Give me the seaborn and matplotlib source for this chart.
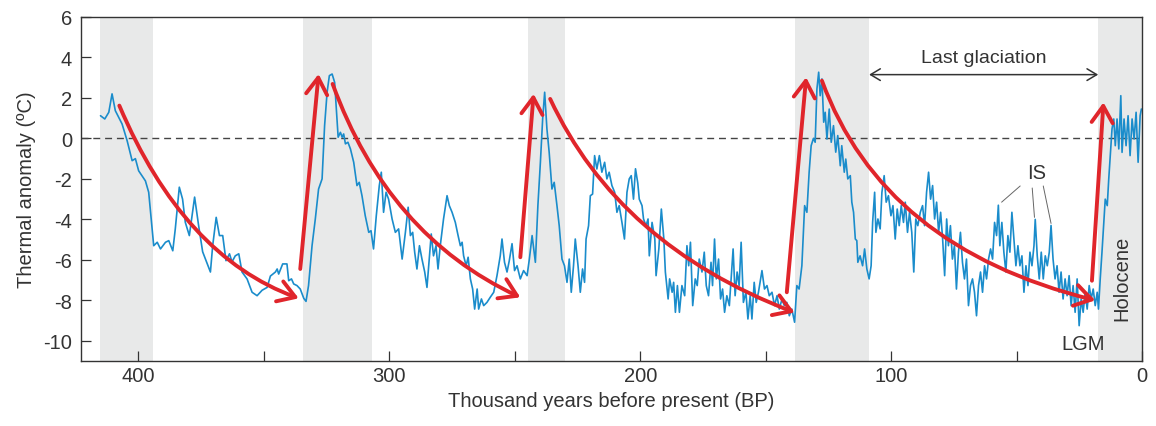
# Glacial cycles - thermal anomaly over the last 420 kyr
import pandas as pd
import matplotlib.pyplot as plt
import seaborn as sns
from matplotlib.ticker import MultipleLocator

sns.set_theme(style="ticks")
plt.rcParams['font.family'] = ['Liberation Sans', 'DejaVu Sans']
plt.rcParams['axes.unicode_minus'] = False

# Data (thousand years BP, anomaly in ºC)
years = [
    415.1, 413.4, 411.8, 410.5, 409.2, 406.5, 404.5, 402.5, 401.2, 399.9,
    397.2, 395.9, 393.9, 392.5, 391.2, 389.2, 387.9, 386.3, 385.3, 383.7,
    382.4, 381.3, 379.7, 377.6, 376.0, 374.4, 371.3, 370.4, 369.0, 367.7,
    366.4, 365.1, 363.7, 362.7, 361.4, 360.0, 358.7, 356.7, 354.7, 352.7,
    350.7, 348.7, 347.4, 345.4, 344.7, 344.1, 342.5, 340.8, 340.1, 339.0,
    338.1, 336.8, 335.5, 334.1, 333.2, 332.2, 330.8, 329.5, 328.2, 326.8,
    325.8, 324.8, 323.9, 322.8, 321.8, 321.1, 320.4, 319.5, 318.8, 318.2,
    317.5, 316.5, 315.5, 314.2, 312.9, 312.0, 310.9, 309.6, 308.2, 307.3,
    306.3, 305.2, 304.0, 303.2, 302.3, 301.3, 300.3, 298.9, 297.6, 296.3,
    294.9, 293.6, 292.5, 291.6, 290.7, 289.9, 289.0, 288.0, 287.0, 285.9,
    285.0, 284.1, 283.3, 282.4, 281.4, 280.6, 279.7, 278.4, 277.0, 276.1,
    275.0, 273.7, 272.6, 271.7, 271.0, 270.4, 269.4, 268.6, 267.7, 266.8,
    266.0, 265.0, 264.4, 263.3, 262.4, 261.1, 259.8, 258.4, 257.1, 255.8,
    255.1, 254.1, 253.1, 252.2, 251.1, 250.1, 249.1, 247.8, 246.5, 245.1,
    244.2, 243.1, 241.8, 240.8, 239.8, 238.9, 238.1, 237.2, 236.3, 235.2,
    234.3, 233.2, 232.3, 231.2, 230.2, 229.2, 228.3, 227.5, 226.6, 225.9,
    224.8, 223.9, 223.0, 222.2, 221.6, 220.6, 219.9, 219.0, 218.2, 217.3,
    216.3, 215.3, 214.2, 213.3, 212.4, 211.3, 210.2, 209.3, 208.4, 207.3,
    206.3, 205.3, 204.4, 203.6, 202.7, 201.9, 201.0, 200.4, 199.3, 198.7,
    197.7, 196.9, 196.4, 195.3, 194.2, 193.7, 192.6, 191.6, 190.6, 190.0,
    188.9, 188.3, 187.3, 186.7, 186.0, 185.2, 184.4, 183.4, 182.3, 181.4,
    180.7, 180.0, 179.1, 178.1, 177.3, 176.5, 175.4, 174.5, 173.7, 172.8,
    171.8, 171.2, 170.4, 169.7, 168.8, 168.0, 167.2, 166.4, 165.5, 164.5,
    163.7, 163.0, 162.2, 161.4, 160.6, 159.8, 158.9, 157.9, 157.1, 156.2,
    155.5, 154.6, 153.8, 152.9, 151.5, 150.5, 149.5, 148.6, 147.5, 146.5,
    145.5, 144.6, 143.5, 142.6, 141.6, 140.6, 139.6, 138.5, 137.6, 136.7,
    135.6, 134.5, 133.6, 132.7, 131.9, 131.0, 130.3, 129.6, 128.9, 128.3,
    127.6, 126.9, 126.3, 125.6, 124.7, 123.9, 123.0, 122.1, 121.3, 120.3,
    119.7, 118.7, 118.1, 117.3, 116.3, 115.7, 115.0, 114.3, 113.7, 113.3,
    112.4, 111.4, 110.6, 109.7, 108.8, 108.0, 107.4, 106.6, 106.1, 105.3,
    104.4, 103.7, 102.8, 102.0, 101.1, 100.1, 99.3, 98.4, 97.6, 96.8,
    96.0, 95.1, 94.4, 93.5, 92.7, 91.8, 91.0, 90.2, 89.4, 88.4,
    87.5, 86.7, 85.9, 85.1, 84.3, 83.5, 82.7, 81.9, 81.1, 80.3,
    79.5, 78.7, 77.9, 77.2, 76.4, 75.6, 74.8, 74.0, 73.2, 72.4,
    71.6, 70.8, 70.0, 69.2, 68.4, 67.6, 66.8, 66.0, 65.2, 64.4,
    63.6, 62.8, 62.0, 61.2, 60.4, 59.6, 58.8, 58.0, 57.3, 56.7,
    55.9, 55.1, 54.3, 53.5, 52.7, 51.9, 51.1, 50.3, 49.5, 48.7,
    47.9, 47.1, 46.3, 45.5, 44.7, 43.9, 43.1, 42.6, 41.8, 41.0,
    40.2, 39.4, 38.6, 37.8, 37.0, 36.3, 35.5, 34.7, 33.9, 33.1,
    32.3, 31.5, 30.7, 29.9, 29.1, 28.3, 27.5, 26.7, 25.9, 25.1,
    24.3, 23.5, 22.7, 21.9, 21.1, 20.3, 19.5, 18.7, 17.9, 17.4,
    16.7, 16.0, 15.2, 14.7, 13.9, 13.3, 12.7, 12.0, 11.3, 10.7,
    10.0, 9.3, 8.5, 8.0, 7.2, 6.4, 5.6, 4.8, 4.0, 3.2,
    2.4, 1.6, 0.8, 0.3,
]
temps = [
    1.12, 0.96, 1.29, 2.2, 1.37, 0.71, -0.11, -1.1, -1.0, -1.6,
    -2.1, -2.66, -5.3, -5.13, -5.46, -5.13, -5.05, -5.55, -4.47, -2.41,
    -3.0, -4.15, -4.8, -2.9, -4.31, -5.6, -6.6, -5.3, -3.9, -4.8,
    -4.8, -6.04, -5.7, -6.1, -5.8, -5.7, -6.6, -6.94, -7.6, -7.77,
    -7.5, -7.36, -6.8, -6.6, -6.45, -6.7, -6.2, -6.2, -7.03, -6.94,
    -7.19, -7.27, -7.44, -7.9, -8.05, -7.27, -5.3, -3.98, -2.5, -2.0,
    0.63, 2.28, 3.1, 3.18, 2.77, 1.45, 0.06, 0.3, 0.06, 0.22,
    -0.27, -0.19, -0.52, -1.18, -2.33, -2.17, -2.83, -3.82, -4.64, -4.56,
    -5.46, -3.82, -2.33, -1.67, -3.65, -2.66, -3.0, -3.98, -4.64, -4.47,
    -5.96, -4.64, -3.4, -4.8, -4.64, -5.62, -6.45, -5.3, -5.96, -6.6,
    -7.36, -5.96, -4.72, -5.8, -5.3, -6.45, -5.3, -3.98, -2.83, -3.32,
    -3.65, -4.15, -4.8, -5.3, -5.13, -5.8, -6.29, -5.87, -6.94, -7.44,
    -8.43, -7.44, -8.43, -7.93, -8.26, -8.1, -7.85, -7.6, -6.78, -5.8,
    -4.97, -6.12, -6.6, -6.04, -5.2, -6.53, -6.29, -6.94, -6.53, -6.78,
    -5.96, -4.8, -6.12, -3.32, -1.18, 0.96, 2.28, 0.47, -0.69, -2.5,
    -2.17, -3.32, -4.31, -5.96, -6.29, -7.11, -5.96, -7.6, -6.29, -4.97,
    -6.29, -7.6, -6.45, -7.11, -4.97, -4.31, -2.83, -2.75, -0.85, -1.51,
    -0.85, -1.67, -1.18, -2.0, -1.67, -2.33, -2.66, -3.65, -3.32, -4.15,
    -4.97, -2.66, -2.0, -1.84, -3.0, -1.5, -2.2, -3.0, -3.32, -3.98,
    -4.31, -3.98, -5.8, -4.15, -4.97, -6.78, -5.46, -3.49, -4.97, -6.6,
    -7.93, -6.94, -7.6, -7.11, -8.59, -7.27, -8.59, -7.27, -7.77, -5.3,
    -6.29, -5.13, -8.26, -6.94, -7.27, -5.96, -6.6, -5.62, -7.27, -7.77,
    -6.12, -7.27, -4.97, -6.94, -5.96, -7.93, -7.44, -8.59, -7.77, -8.26,
    -6.78, -5.46, -7.77, -6.6, -7.27, -5.13, -8.1, -7.6, -8.92, -7.77,
    -8.92, -7.11, -8.1, -7.6, -6.53, -7.44, -7.27, -7.77, -7.6, -8.26,
    -7.77, -8.43, -7.93, -8.26, -8.1, -8.76, -8.43, -9.08, -7.27, -7.44,
    -6.29, -3.32, -3.65, -1.67, -0.36, 0.0, -0.19, 2.44, 3.27, 2.11,
    2.94, 0.8, 1.29, -0.03, 1.45, -0.19, 0.63, -0.68, 0.14, -1.35,
    -0.36, -1.67, -1.02, -2.0, -1.84, -3.15, -3.65, -4.97, -5.05, -6.12,
    -5.8, -6.29, -5.46, -6.45, -6.94, -6.29, -4.15, -2.66, -4.64, -3.98,
    -4.47, -2.66, -1.84, -3.15, -2.83, -3.82, -3.32, -4.97, -3.49, -4.31,
    -3.32, -4.15, -3.15, -4.64, -3.65, -4.64, -6.6, -3.98, -4.31, -3.65,
    -3.32, -4.31, -2.66, -1.67, -3.0, -2.33, -3.98, -3.15, -4.64, -3.65,
    -4.97, -6.78, -3.98, -5.3, -4.31, -5.96, -5.3, -7.44, -5.62, -4.64,
    -6.12, -6.94, -5.96, -8.26, -7.27, -6.94, -7.6, -8.76, -7.27, -6.6,
    -7.6, -6.29, -6.94, -5.96, -5.46, -5.96, -4.15, -4.8, -3.3, -5.3,
    -4.15, -5.62, -6.6, -4.8, -5.62, -3.65, -4.97, -6.29, -5.3, -6.29,
    -5.8, -7.6, -6.29, -7.27, -5.62, -6.29, -5.3, -4.0, -5.8, -6.94,
    -5.62, -6.94, -5.8, -6.29, -5.62, -4.3, -5.96, -6.94, -6.29, -7.6,
    -6.6, -7.93, -6.94, -7.77, -6.78, -8.26, -7.27, -8.59, -6.94, -9.25,
    -7.93, -8.59, -7.6, -8.43, -7.27, -7.93, -7.44, -8.26, -7.6, -8.43,
    -6.94, -5.62, -3.98, -3.0, -3.32, -2.0, -0.85, 0.47, 0.96, -0.36,
    0.96, -0.52, 2.11, -0.69, 0.96, -0.36, 1.12, -0.85, 0.96, -0.03,
    1.29, -1.18, 1.12, 1.45,
]

# Interglacial bands (kyr BP)
band_start = [415.5, 334.3, 244.6, 138.2, 17.5]
band_end = [394.0, 306.8, 229.9, 108.8, 0.0]

# Red trend arrows: (start year, start temp) -> (end year, end temp)
cool_from = [(407.6, 1.62), (322.6, 2.69), (235.9, 1.95), (127.6, 2.85)]
cool_to = [(336.1, -7.9), (247.8, -7.85), (138.5, -8.6), (18.7, -8.0)]
cool_angles = [(-67, -20), (-70, -25), (-65, -21), (-70, -14)]
warm_from = [(335.5, -6.45), (247.8, -5.87), (141.6, -7.6), (20.0, -7.03)]
warm_to = [(328.2, 3.18), (242.5, 2.2), (133.9, 3.02), (15.4, 1.78)]

blue = '#1a8ccb'
red = '#e0252b'
dark = '#333333'

df = pd.DataFrame({'kyr': years, 'anomaly': temps})

fig, ax = plt.subplots(figsize=(11.56, 4.27), dpi=100)
fig.subplots_adjust(left=0.0698, right=0.988, bottom=0.152, top=0.958)

for a, b in zip(band_start, band_end):
    ax.axvspan(a, b, color='#e8e9e9', lw=0, zorder=0)

ax.axhline(0, color='#444444', lw=1.0, ls=(0, (5, 3.5)), zorder=1)

sns.lineplot(data=df, x='kyr', y='anomaly', color=blue, lw=1.2,
             sort=False, estimator=None, ax=ax, zorder=2)

head = "->,head_length=0.6,head_width=0.38"
for (x0, y0), (x1, y1), (aa, ab) in zip(cool_from, cool_to, cool_angles):
    ax.annotate("", xy=(x1, y1), xytext=(x0, y0),
                arrowprops=dict(arrowstyle=head, color=red, lw=2.8,
                                mutation_scale=20, shrinkA=0, shrinkB=0,
                                connectionstyle=f"angle3,angleA={aa},angleB={ab}"),
                zorder=3)
for (x0, y0), (x1, y1) in zip(warm_from, warm_to):
    ax.annotate("", xy=(x1, y1), xytext=(x0, y0),
                arrowprops=dict(arrowstyle=head, color=red, lw=2.8,
                                mutation_scale=20, shrinkA=0, shrinkB=0),
                zorder=3)

# Last glaciation span
ax.annotate("", xy=(17.5, 3.15), xytext=(108.8, 3.15),
            arrowprops=dict(arrowstyle="<->,head_length=0.5,head_width=0.3",
                            color=dark, lw=1.1, mutation_scale=14,
                            shrinkA=0, shrinkB=0))
ax.text(63.3, 4.0, "Last glaciation", ha='center', va='center',
        fontsize=14, color=dark)

# Interstadials
ax.text(42.2, -1.7, "IS", ha='center', va='center', fontsize=14.5, color=dark)
is_lines = [((48.6, -2.35), (56.0, -3.15)),
            ((43.8, -2.45), (42.9, -3.9)),
            ((39.4, -2.35), (36.3, -4.2))]
for (x0, y0), (x1, y1) in is_lines:
    ax.plot([x0, x1], [y0, y1], color='#666666', lw=0.7, zorder=3)

ax.text(23.5, -10.15, "LGM", ha='center', va='center', fontsize=14.5, color=dark)
ax.text(8.0, -6.85, "Holocene", ha='center', va='center', rotation=90,
        fontsize=14.5, color=dark)

# Axes
ax.set_xlim(423, 0)
ax.set_ylim(-11, 6)
ax.xaxis.set_major_locator(MultipleLocator(100))
ax.xaxis.set_minor_locator(MultipleLocator(50))
ax.yaxis.set_major_locator(MultipleLocator(2))
ax.tick_params(which='both', direction='in', length=7.5, width=0.9,
               color=dark, labelsize=14.5, labelcolor=dark)
ax.tick_params(axis='y', pad=6.3)
ax.tick_params(axis='x', pad=3.6)
for sp in ax.spines.values():
    sp.set_visible(True)
    sp.set_color(dark)
    sp.set_linewidth(1.0)

ax.set_xlabel('Thousand years before present (BP)', fontsize=14.5, color=dark)
ax.set_ylabel('Thermal anomaly (ºC)', fontsize=14.5, color=dark, labelpad=5)

plt.savefig('out.png', dpi=100)
